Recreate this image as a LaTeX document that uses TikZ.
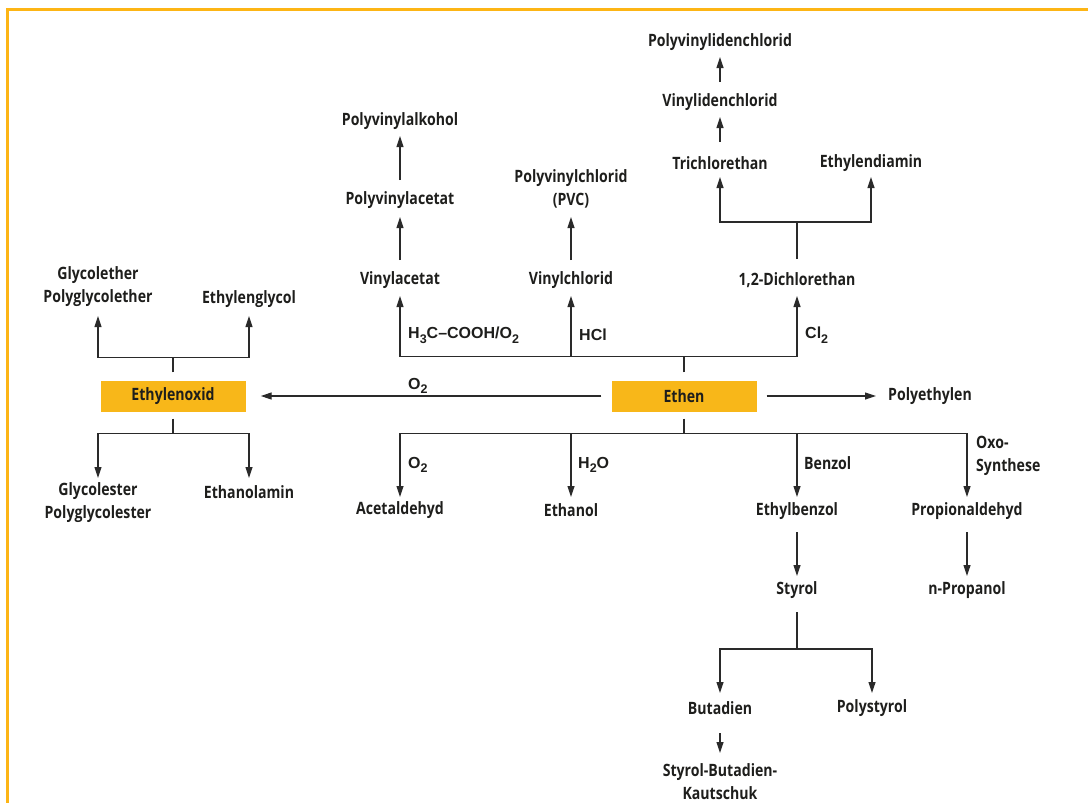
\documentclass[tikz,border=0pt]{standalone}
\usepackage{fontspec}
\usetikzlibrary{arrows.meta,calc}
\newfontfamily\cond[FakeStretch=0.83]{Open Sans}
\newfontfamily\arb{Liberation Sans}
\definecolor{frameor}{HTML}{FDB515}
\definecolor{boxor}{HTML}{F8B719}
\definecolor{ink}{HTML}{1E1E1C}
\definecolor{ln}{HTML}{2A2A2A}
\newcommand\lowix[1]{\raisebox{-0.3em}{\fontsize{12.5}{12.5}\selectfont #1}}
\tikzset{
 lbl/.style={font=\cond\bfseries\fontsize{17}{23}\selectfont, text=ink, align=center, inner sep=0pt},
 rg/.style={font=\arb\bfseries\fontsize{16}{18}\selectfont, text=ink, anchor=west, inner sep=0pt},
 obox/.style={fill=boxor, minimum width=145pt, minimum height=31pt, inner sep=0pt, font=\cond\bfseries\fontsize{17}{20}\selectfont, text=ink},
 conn/.style={draw=ln, line width=1.15pt},
 arr/.style={conn, -{Triangle[length=11pt,width=7pt]}},
}
\begin{document}
\begin{tikzpicture}[x=1pt,y=-1pt]
\useasboundingbox (0,0) rectangle (1088,803);
\draw[frameor, line width=3pt] (7.5,806) -- (7.5,9.5) -- (1090,9.5);

% boxes
\node[obox] (ethen) at (684,396) {Ethen};
\node[obox] (eox) at (173,396) {Ethylenoxid};

% labels
\node[lbl] (pvdc) at (720,42) {Polyvinylidenchlorid};
\node[lbl] (vdc) at (720,102) {Vinylidenchlorid};
\node[lbl] (tce) at (720,163) {Trichlorethan};
\node[lbl] (eda) at (871,163) {Ethylendiamin};
\node[lbl] (dce) at (797,280) {1,2-Dichlorethan};
\node[lbl] (pvalk) at (400,121) {Polyvinylalkohol};
\node[lbl] (pvac) at (400,200) {Polyvinylacetat};
\node[lbl] (vac) at (400,280) {Vinylacetat};
\node[lbl] (pvc) at (571,189) {Polyvinylchlorid\\(PVC)};
\node[lbl] (vc) at (571,280) {Vinylchlorid};
\node[lbl] (gly) at (98,287) {Glycolether\\Polyglycolether};
\node[lbl] (eg) at (249,299) {Ethylenglycol};
\node[lbl] (gest) at (98,503) {Glycolester\\Polyglycolester};
\node[lbl] (eam) at (249,492) {Ethanolamin};
\node[lbl] (pe) at (930,396) {Polyethylen};
\node[lbl] (acet) at (400,510) {Acetaldehyd};
\node[lbl] (etoh) at (571,510) {Ethanol};
\node[lbl] (eb) at (797,511) {Ethylbenzol};
\node[lbl] (prop) at (967,511) {Propionaldehyd};
\node[lbl] (sty) at (797,590) {Styrol};
\node[lbl] (nprop) at (967,590) {n-Propanol};
\node[lbl] (but) at (720,708) {Butadien};
\node[lbl] (ps) at (872,708) {Polystyrol};
\node[lbl] (sbk) at (720,782) {Styrol-Butadien-\\Kautschuk};

% reagent labels
\node[rg] (rac) at (408,335) {H\lowix{3}C–COOH/O\lowix{2}};
\node[rg] (rhcl) at (579,335) {HCl};
\node[rg] (rcl) at (805,335) {Cl\lowix{2}};
\node[rg] (ro2a) at (408,386) {O\lowix{2}};
\node[rg] (ro2b) at (408,465) {O\lowix{2}};
\node[rg] (rh2o) at (578,465) {H\lowix{2}O};
\node[lbl, anchor=west] (rbz) at (804,463) {Benzol};
\node[lbl, anchor=west, align=left] (rox) at (976,456) {Oxo-\\Synthese};

% Ethen -> Ethylenoxid, Polyethylen
\draw[arr] ($(ethen.west)+(-10,0)$) -- ($(eox.east)+(15,0)$);
\draw[arr] ($(ethen.east)+(10,0)$) -- ($(pe.center)+(-54,0)$);

% Ethen upward
\coordinate (eup) at ($(ethen.north)+(0,-24)$);
\draw[conn] ($(ethen.north)+(0,-8)$) -- (eup);
\draw[arr] (eup) -| ($(vac.center)+(0,16)$);
\draw[arr] (eup) -| ($(dce.center)+(0,16)$);
\draw[arr] (vc|-eup) -- ($(vc.center)+(0,16)$);

% Ethen downward
\coordinate (edn) at ($(ethen.south)+(0,22)$);
\draw[conn] ($(ethen.south)+(0,7)$) -- (edn);
\draw[arr] (edn) -| ($(acet.center)+(0,-13)$);
\draw[arr] (edn) -| ($(prop.center)+(0,-14)$);
\draw[arr] (etoh|-edn) -- ($(etoh.center)+(0,-13)$);
\draw[arr] (eb|-edn) -- ($(eb.center)+(0,-14)$);

% Ethylenoxid up / down
\coordinate (xup) at ($(eox.north)+(0,-23)$);
\draw[conn] ($(eox.north)+(0,-8)$) -- (xup);
\draw[arr] (xup) -| ($(gly.center)+(0,29)$);
\draw[arr] (xup) -| ($(eg.center)+(0,17)$);
\coordinate (xdn) at ($(eox.south)+(0,22)$);
\draw[conn] ($(eox.south)+(0,7)$) -- (xdn);
\draw[arr] (xdn) -| ($(gest.center)+(0,-25)$);
\draw[arr] (xdn) -| ($(eam.center)+(0,-14)$);

% vinyl chains
\draw[arr] ($(vac.center)+(0,-20)$) -- ($(pvac.center)+(0,17)$);
\draw[arr] ($(pvac.center)+(0,-20)$) -- ($(pvalk.center)+(0,15)$);
\draw[arr] ($(vc.center)+(0,-20)$) -- ($(pvc.center)+(0,28)$);

% dichlorethan fork
\coordinate (dfork) at ($(dce.center)+(0,-58)$);
\draw[conn] ($(dce.center)+(0,-21)$) -- (dfork);
\draw[arr] (dfork) -| ($(tce.center)+(0,14)$);
\draw[arr] (dfork) -| ($(eda.center)+(0,14)$);
\draw[arr] ($(tce.center)+(0,-21)$) -- ($(vdc.center)+(0,15)$);
\draw[arr] ($(vdc.center)+(0,-20)$) -- ($(pvdc.center)+(0,15)$);

% lower chains
\draw[arr] ($(eb.center)+(0,21)$) -- ($(sty.center)+(0,-14)$);
\draw[arr] ($(prop.center)+(0,21)$) -- ($(nprop.center)+(0,-14)$);
\coordinate (sfork) at ($(sty.center)+(0,59)$);
\draw[conn] ($(sty.center)+(0,22)$) -- (sfork);
\draw[arr] (sfork) -| ($(but.center)+(0,-15)$);
\draw[arr] (sfork) -| ($(ps.center)+(0,-15)$);
\draw[arr] ($(but.center)+(0,25)$) -- ($(sbk.center)+(0,-29)$);
\end{tikzpicture}
\end{document}
